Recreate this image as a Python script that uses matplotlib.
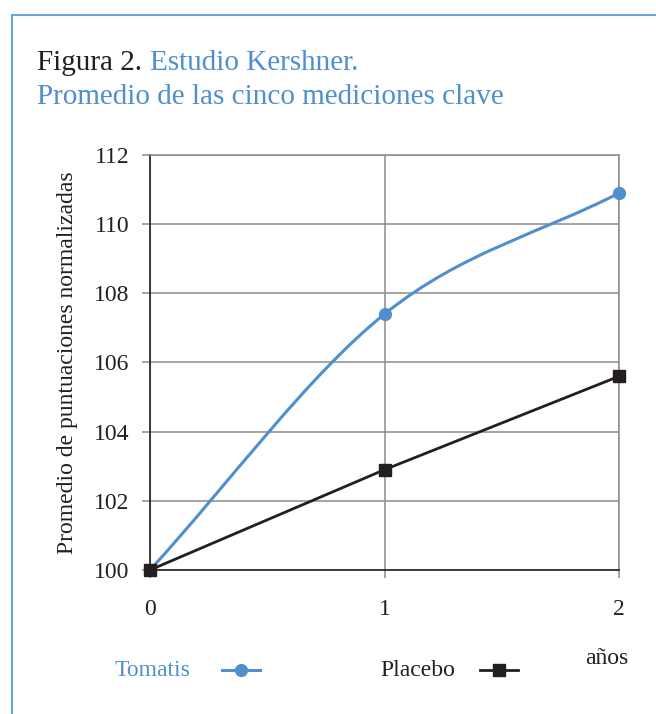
import numpy as np
import matplotlib.pyplot as plt
from matplotlib.path import Path
from matplotlib.patches import PathPatch, Rectangle
from matplotlib.lines import Line2D

plt.rcParams['font.family'] = ['Liberation Serif', 'DejaVu Serif']

years = [0, 1, 2]
tomatis = [100.0, 107.4, 110.9]
placebo = [100.0, 102.9, 105.6]
yticks = [100, 102, 104, 106, 108, 110, 112]

blue = '#4f8fcf'
black = '#231f20'
grid = '#8c8c8c'


def smooth_path(xs, ys):
    # smoothed line: Catmull-Rom segments as cubic Beziers,
    # ends extended by reflection so the curve leaves each end straight
    pts = np.column_stack([xs, ys]).astype(float)
    ext = np.vstack([2 * pts[0] - pts[1], pts, 2 * pts[-1] - pts[-2]])
    verts = [pts[0]]
    codes = [Path.MOVETO]
    for i in range(1, len(ext) - 2):
        p0, p1, p2, p3 = ext[i - 1], ext[i], ext[i + 1], ext[i + 2]
        verts += [p1 + (p2 - p0) / 6, p2 - (p3 - p1) / 6, p2]
        codes += [Path.CURVE4] * 3
    return Path(verts, codes)


fig = plt.figure(figsize=(6.56, 7.14), dpi=100)
ax = fig.add_axes([0.2287, 0.2017, 0.7149, 0.5812])

ax.add_patch(PathPatch(smooth_path(years, tomatis), fill=False,
                       edgecolor=blue, lw=2.2, zorder=3, clip_on=False))
ax.plot(years, tomatis, 'o', color=blue, ms=8.5, zorder=4, clip_on=False)
ax.plot(years, placebo, 's', ls='-', color=black, lw=2, ms=9, zorder=4,
        clip_on=False)

ax.set_xlim(0, 2)
ax.set_ylim(100, 112)
ax.set_xticks(years)
ax.set_yticks(yticks)
ax.grid(True, color=grid, lw=1.1)
ax.set_axisbelow(True)
for s in ['top', 'right']:
    ax.spines[s].set_color(grid)
    ax.spines[s].set_linewidth(1.1)
for s in ['left', 'bottom']:
    ax.spines[s].set_color(black)
    ax.spines[s].set_linewidth(1.2)
ax.tick_params(axis='both', direction='out', length=6, width=1.1,
               color=grid, labelsize=17, labelcolor=black)
ax.tick_params(axis='x', pad=15)
ax.tick_params(axis='y', pad=9)
ax.set_ylabel('Promedio de puntuaciones normalizadas', fontsize=17,
              color=black, labelpad=11)

# title
fig.text(37 / 656, 1 - 70 / 714, 'Figura 2.', fontsize=21, color=black,
         va='baseline')
fig.text(150 / 656, 1 - 70 / 714, 'Estudio Kershner.', fontsize=21,
         color=blue, va='baseline')
fig.text(37 / 656, 1 - 104 / 714, 'Promedio de las cinco mediciones clave',
         fontsize=21, color=blue, va='baseline')

# legend
ly = 1 - 670 / 714
fig.text(115 / 656, ly, 'Tomatis', fontsize=17, color=blue, va='center')
fig.lines.append(Line2D([222 / 656, 260 / 656], [ly, ly], color=blue, lw=2.2,
                        transform=fig.transFigure))
fig.lines.append(Line2D([241 / 656], [ly], color=blue, marker='o', ms=8.5,
                        transform=fig.transFigure))
fig.text(380 / 656, ly, 'Placebo', fontsize=17, color=black, va='center')
fig.lines.append(Line2D([480 / 656, 518 / 656], [ly, ly], color=black, lw=2,
                        transform=fig.transFigure))
fig.lines.append(Line2D([499 / 656], [ly], color=black, marker='s', ms=9,
                        transform=fig.transFigure))
fig.text(628 / 656, 1 - 658 / 714, 'años', fontsize=17, color=black,
         ha='right', va='center')

# frame around the figure
fig.patches.append(Rectangle((12 / 656, -0.05), 1.2, 1 - 15 / 714 + 0.05,
                             transform=fig.transFigure, fill=False,
                             edgecolor='#6fa3d6', lw=1.5))

fig.savefig('out.png', dpi=100)
